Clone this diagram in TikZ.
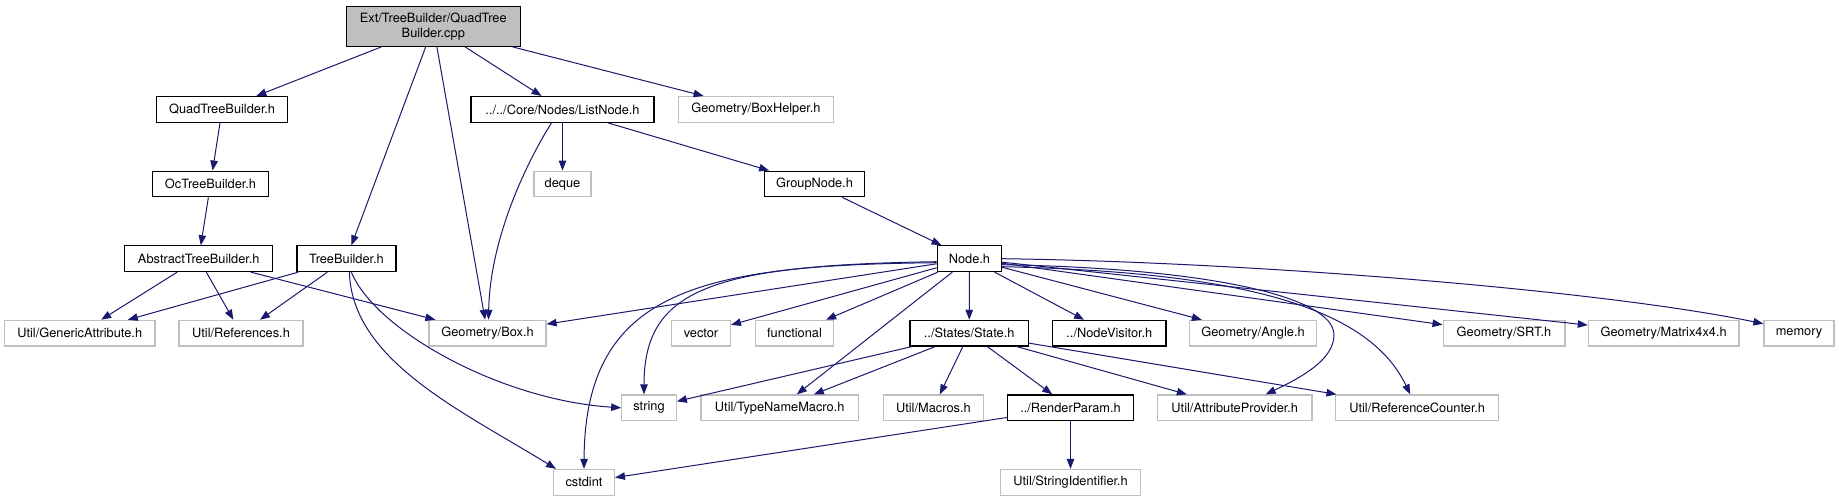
\documentclass[tikz,border=0pt]{standalone}
\usepackage{fontspec}
\setmainfont{TeX Gyre Heros}
\usetikzlibrary{arrows.meta}
\definecolor{DoxEdge}{RGB}{25,25,112}
\definecolor{DoxGrey}{RGB}{191,191,191}

\begin{document}
\begin{tikzpicture}[x=1pt,y=-1pt,>={Triangle[length=10pt,width=7.5pt]},
  every node/.style={font=\fontsize{12.8}{14.4}\selectfont,inner sep=0pt,minimum height=25.7pt,fill=white,line width=1.2pt},
  doc/.style={draw=black},ext/.style={draw=DoxGrey},
  dep/.style={->,color=DoxEdge,line width=1pt}]
\fill[white] (0,0) rectangle (1839,501);
\useasboundingbox (0,0) rectangle (1839,501);
% file being documented
\node[doc,fill=DoxGrey,minimum width=173.7pt,minimum height=39.6pt,align=center] (root) at (433.3,26.5) {Ext/TreeBuilder/QuadTree\\Builder.cpp};
% direct includes
\node[doc,minimum width=130.8pt] (quadtb) at (222.1,109.4) {QuadTreeBuilder.h};
\node[doc,minimum width=183pt] (listn) at (562.5,109.4) {../../Core/Nodes/ListNode.h};
\node[ext,minimum width=154.6pt] (boxhelp) at (755.9,109.4) {Geometry/BoxHelper.h};
\node[doc,minimum width=116.5pt] (octb) at (210.5,184) {OcTreeBuilder.h};
\node[ext,minimum width=57pt] (deque) at (562.5,184) {deque};
\node[doc,minimum width=99.5pt] (groupn) at (814.5,184) {GroupNode.h};
\node[doc,minimum width=148.3pt] (abstb) at (198.7,258.7) {AbstractTreeBuilder.h};
\node[doc,minimum width=99pt] (treeb) at (346.4,258.7) {TreeBuilder.h};
\node[doc,minimum width=64.2pt] (nodeh) at (969.4,258.7) {Node.h};
% row of leaf headers
\node[ext,minimum width=150.4pt] (genattr) at (79.7,333.2) {Util/GenericAttribute.h};
\node[ext,minimum width=124pt] (refs) at (241,333.2) {Util/References.h};
\node[ext,minimum width=117pt] (box) at (487.5,333.2) {Geometry/Box.h};
\node[ext,minimum width=58.8pt] (vect) at (701,333.2) {vector};
\node[ext,minimum width=78.3pt] (func) at (794.5,333.2) {functional};
\node[doc,minimum width=118.5pt] (state) at (969.2,333.2) {../States/State.h};
\node[doc,minimum width=113.5pt] (visit) at (1109.3,333.2) {../NodeVisitor.h};
\node[ext,minimum width=127pt] (angle) at (1253,333.2) {Geometry/Angle.h};
\node[ext,minimum width=121.8pt] (srt) at (1504,333.2) {Geometry/SRT.h};
\node[ext,minimum width=150.6pt] (matrix) at (1663.7,333.2) {Geometry/Matrix4x4.h};
\node[ext,minimum width=70pt] (memory) at (1799,333.2) {memory};
\node[ext,minimum width=54.5pt] (str) at (649,407.8) {string};
\node[ext,minimum width=157.5pt] (typemac) at (779.7,407.8) {Util/TypeNameMacro.h};
\node[ext,minimum width=100pt] (macros) at (933.4,407.8) {Util/Macros.h};
\node[doc,minimum width=125.6pt] (render) at (1070.5,407.8) {../RenderParam.h};
\node[ext,minimum width=154.7pt] (attrprov) at (1234.7,407.8) {Util/AttributeProvider.h};
\node[ext,minimum width=163pt] (refcnt) at (1417.2,407.8) {Util/ReferenceCounter.h};
\node[ext,minimum width=60.8pt] (cstdint) at (584,482.3) {cstdint};
\node[ext,minimum width=140.6pt] (strid) at (1070.5,482.3) {Util/StringIdentifier.h};
% include edges
\draw[dep] (root)--(quadtb); \draw[dep] (root)--(treeb); \draw[dep] (root)--(box); \draw[dep] (root)--(listn); \draw[dep] (root)--(boxhelp);
\draw[dep] (quadtb)--(octb); \draw[dep] (octb)--(abstb);
\draw[dep] (listn)--(deque); \draw[dep] (listn)--(groupn); \draw[dep] (groupn)--(nodeh);
\draw[dep] ([xshift=-11pt]listn.south) .. controls (525,165) and (490,240) .. ([xshift=1pt]box.north);
\draw[dep] (abstb)--(genattr); \draw[dep] (abstb)--(refs); \draw[dep] (abstb)--(box);
\draw[dep] (treeb)--(genattr); \draw[dep] (treeb)--(refs);
\draw[dep] ([xshift=5pt]treeb.south) .. controls (375,330) and (500,400) .. (str.west);
\draw[dep] ([xshift=3pt]treeb.south) .. controls (352,360) and (460,410) .. ([xshift=3pt]cstdint.north west);
\draw[dep] (nodeh)--(box); \draw[dep] (nodeh)--(vect); \draw[dep] (nodeh)--(func); \draw[dep] (nodeh)--(typemac); \draw[dep] (nodeh)--(state);
\draw[dep] (nodeh)--(visit); \draw[dep] (nodeh)--(angle); \draw[dep] (nodeh)--(srt); \draw[dep] (nodeh)--(matrix);
\draw[dep] ([yshift=-4pt]nodeh.west) .. controls (700,265) and (585,290) .. (cstdint.north);
\draw[dep] ([yshift=-3pt]nodeh.west) .. controls (710,265) and (644,290) .. ([xshift=-5pt]str.north);
\draw[dep] (nodeh.east) .. controls (1250,262) and (1600,290) .. ([yshift=-4pt]memory.north west);
\draw[dep] ([yshift=-6pt]nodeh.east) .. controls (1200,268) and (1334,295) .. (1334,335) .. controls (1334,360) and (1300,378) .. ([xshift=31pt]attrprov.north);
\draw[dep] ([yshift=-8pt]nodeh.east) .. controls (1250,272) and (1370,310) .. ([xshift=-7pt]refcnt.north);
\draw[dep] (state)--(str); \draw[dep] (state)--(typemac); \draw[dep] (state)--(macros); \draw[dep] (state)--(render);
\draw[dep] (state)--(attrprov); \draw[dep] (state)--(refcnt);
\draw[dep] (render)--(cstdint); \draw[dep] (render)--(strid);
\end{tikzpicture}
\end{document}
